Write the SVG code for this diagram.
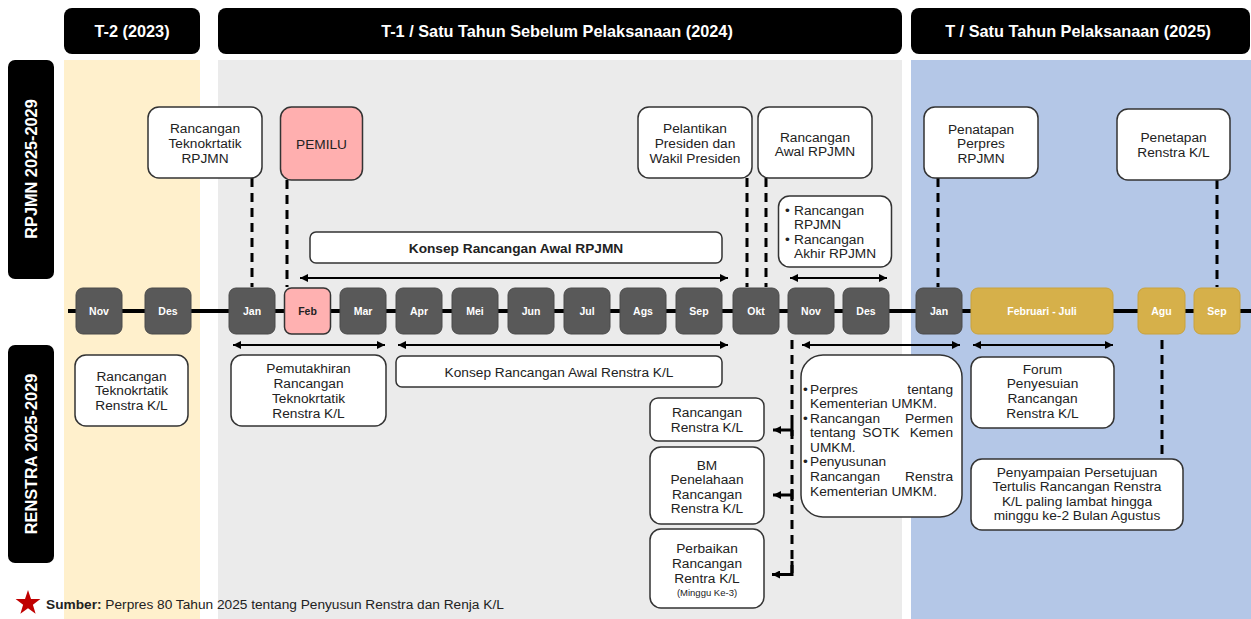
<svg xmlns="http://www.w3.org/2000/svg" width="1251" height="619" viewBox="0 0 1251 619">
<defs>
<marker id="ah" viewBox="0 0 10 10" refX="10" refY="5" markerUnits="userSpaceOnUse" markerWidth="10" markerHeight="8" orient="auto-start-reverse"><path d="M0,0 L10,5 L0,10 z" fill="#000"/></marker>
<style>
text{font-family:"Liberation Sans",Arial,sans-serif;}
.hdr{fill:#000;}
.ht{fill:#fff;font-size:16.3px;font-weight:bold;text-anchor:middle;}
.box{fill:#fff;stroke:#333;stroke-width:1.5;}
.t{font-size:13.7px;fill:#222;text-anchor:middle;}
.tl{font-size:13.7px;fill:#222;}
.mo{fill:#595959;stroke:#4a4a4a;stroke-width:1;}
.gold{fill:#d6b04a;stroke:#c9a23c;stroke-width:1;}
.mt{fill:#fff;font-size:10.5px;font-weight:bold;text-anchor:middle;}
.dash{stroke:#000;stroke-width:3;stroke-dasharray:9 6;fill:none;}
.arr{stroke:#000;stroke-width:2;fill:none;}
</style>
</defs>
<rect width="1251" height="619" fill="#fff"/>
<!-- backgrounds -->
<rect x="64" y="60" width="136" height="559" fill="#fff0cc"/>
<rect x="218" y="60" width="684" height="559" fill="#ebebeb"/>
<rect x="911" y="60" width="340" height="559" fill="#b4c7e7"/>
<!-- headers -->
<g id="hdr-t2"><rect class="hdr" x="64" y="8" width="136" height="46" rx="8"/><text class="ht" x="132" y="37">T-2 (2023)</text></g>
<g id="hdr-t1"><rect class="hdr" x="218" y="8" width="684" height="46" rx="8"/><text class="ht" x="557" y="37">T-1 / Satu Tahun Sebelum Pelaksanaan (2024)</text></g>
<g id="hdr-t"><rect class="hdr" x="911" y="8" width="339" height="46" rx="8"/><text class="ht" x="1078" y="37">T / Satu Tahun Pelaksanaan (2025)</text></g>
<g id="lbl-rpjmn"><rect class="hdr" x="8" y="60" width="46" height="219" rx="7"/><text class="ht" transform="translate(37,169) rotate(-90)" x="0" y="0">RPJMN 2025-2029</text></g>
<g id="lbl-renstra"><rect class="hdr" x="8" y="345" width="46" height="218" rx="7"/><text class="ht" transform="translate(37,454) rotate(-90)" x="0" y="0">RENSTRA 2025-2029</text></g>

<!-- connectors -->
<g id="connectors">
<line x1="68" y1="311" x2="1251" y2="311" stroke="#000" stroke-width="4"/>
<line class="dash" x1="252" y1="178" x2="252" y2="287"/>
<line class="dash" x1="287" y1="180" x2="287" y2="287"/>
<line class="dash" x1="747" y1="178" x2="747" y2="287"/>
<line class="dash" x1="766" y1="178" x2="766" y2="287"/>
<line class="dash" x1="938" y1="178" x2="938" y2="287"/>
<line class="dash" x1="1217" y1="180" x2="1217" y2="287"/>
<line class="arr" x1="300" y1="278" x2="728" y2="278" marker-start="url(#ah)" marker-end="url(#ah)"/>
<line class="arr" x1="790" y1="278" x2="887" y2="278" marker-start="url(#ah)" marker-end="url(#ah)"/>
<line class="arr" x1="233" y1="345" x2="385" y2="345" marker-start="url(#ah)" marker-end="url(#ah)"/>
<line class="arr" x1="398" y1="345" x2="728" y2="345" marker-start="url(#ah)" marker-end="url(#ah)"/>
<line class="arr" x1="802" y1="345" x2="960" y2="345" marker-start="url(#ah)" marker-end="url(#ah)"/>
<line class="arr" x1="973" y1="345" x2="1113" y2="345" marker-start="url(#ah)" marker-end="url(#ah)"/>
<line class="dash" x1="792" y1="340" x2="792" y2="573" stroke-dasharray="2 6 9 6 9 6 9 6 9 6 9 6 9 6 9 6 9 6 9 6 9 6 9 6 9 6 9 6 9 6 9 6"/>
<path d="M792,561 L792,574.5 L772,574.5" stroke="#000" stroke-width="3" fill="none" marker-end="url(#ah)"/>
<line x1="792" y1="430" x2="773" y2="430" stroke="#000" stroke-width="3" marker-end="url(#ah)"/>
<line x1="792" y1="424" x2="792" y2="436" stroke="#000" stroke-width="3"/>
<line x1="792" y1="495" x2="773" y2="495" stroke="#000" stroke-width="3" marker-end="url(#ah)"/>
<line x1="792" y1="489" x2="792" y2="501" stroke="#000" stroke-width="3"/>
<line class="dash" x1="1162" y1="340" x2="1162" y2="459" stroke-dasharray="2 6 9 6 9 6 9 6 9 6 9 6 9 6 9 6 9 6 9 6"/>
</g>

<!-- months -->
<g id="months">
<g id="m-nov23"><rect class="mo" x="76" y="288" width="46" height="46" rx="7"/><text class="mt" x="99" y="314.5">Nov</text></g>
<g id="m-des23"><rect class="mo" x="145" y="288" width="46" height="46" rx="7"/><text class="mt" x="168" y="314.5">Des</text></g>
<g id="m-jan24"><rect class="mo" x="229" y="288" width="46" height="46" rx="7"/><text class="mt" x="252" y="314.5">Jan</text></g>
<g id="m-feb24"><rect x="284.5" y="288" width="46" height="46" rx="7" fill="#ffb1b1" stroke="#333" stroke-width="1.5"/><text class="mt" x="307.5" y="314.5" style="fill:#222">Feb</text></g>
<g id="m-mar24"><rect class="mo" x="340" y="288" width="46" height="46" rx="7"/><text class="mt" x="363" y="314.5">Mar</text></g>
<g id="m-apr24"><rect class="mo" x="396" y="288" width="46" height="46" rx="7"/><text class="mt" x="419" y="314.5">Apr</text></g>
<g id="m-mei24"><rect class="mo" x="452" y="288" width="46" height="46" rx="7"/><text class="mt" x="475" y="314.5">Mei</text></g>
<g id="m-jun24"><rect class="mo" x="508" y="288" width="46" height="46" rx="7"/><text class="mt" x="531" y="314.5">Jun</text></g>
<g id="m-jul24"><rect class="mo" x="564" y="288" width="46" height="46" rx="7"/><text class="mt" x="587" y="314.5">Jul</text></g>
<g id="m-ags24"><rect class="mo" x="620" y="288" width="46" height="46" rx="7"/><text class="mt" x="643" y="314.5">Ags</text></g>
<g id="m-sep24"><rect class="mo" x="676" y="288" width="46" height="46" rx="7"/><text class="mt" x="699" y="314.5">Sep</text></g>
<g id="m-okt24"><rect class="mo" x="733" y="288" width="46" height="46" rx="7"/><text class="mt" x="756" y="314.5">Okt</text></g>
<g id="m-nov24"><rect class="mo" x="788" y="288" width="46" height="46" rx="7"/><text class="mt" x="811" y="314.5">Nov</text></g>
<g id="m-des24"><rect class="mo" x="843" y="288" width="46" height="46" rx="7"/><text class="mt" x="866" y="314.5">Des</text></g>
<g id="m-jan25"><rect class="mo" x="916" y="288" width="46" height="46" rx="7"/><text class="mt" x="939" y="314.5">Jan</text></g>
<g id="m-febjul25"><rect class="gold" x="971" y="288" width="142" height="46" rx="7"/><text class="mt" x="1042" y="314.5">Februari - Juli</text></g>
<g id="m-agu25"><rect class="gold" x="1138" y="288" width="47" height="46" rx="7"/><text class="mt" x="1161.5" y="314.5">Agu</text></g>
<g id="m-sep25"><rect class="gold" x="1194" y="288" width="46" height="46" rx="7"/><text class="mt" x="1217" y="314.5">Sep</text></g>
</g>

<!-- top nodes -->
<g id="n-rtek-rpjmn"><rect class="box" x="148" y="107" width="114" height="71" rx="11"/><text class="t" x="205" y="133">Rancangan</text><text class="t" x="205" y="148">Teknokrtatik</text><text class="t" x="205" y="163">RPJMN</text></g>
<g id="n-pemilu"><rect x="280.5" y="107" width="82" height="73" rx="11" fill="#ffafaf" stroke="#333" stroke-width="1.5"/><text class="t" x="321.5" y="149">PEMILU</text></g>
<g id="n-pelantikan"><rect class="box" x="638" y="107" width="114" height="71" rx="11"/><text class="t" x="695" y="133">Pelantikan</text><text class="t" x="695" y="148">Presiden dan</text><text class="t" x="695" y="163">Wakil Presiden</text></g>
<g id="n-rawal-rpjmn"><rect class="box" x="758" y="107" width="114" height="71" rx="11"/><text class="t" x="815" y="141.5">Rancangan</text><text class="t" x="815" y="156">Awal RPJMN</text></g>
<g id="n-rakhir"><rect class="box" x="778.5" y="196" width="113" height="71" rx="11"/><text class="tl" x="785" y="214.5">•</text><text class="tl" x="794" y="214.5">Rancangan</text><text class="tl" x="794" y="229">RPJMN</text><text class="tl" x="785" y="243.5">•</text><text class="tl" x="794" y="243.5">Rancangan</text><text class="tl" x="794" y="258">Akhir RPJMN</text></g>
<g id="n-penatapan"><rect class="box" x="924" y="107" width="114" height="71" rx="11"/><text class="t" x="981" y="133.5">Penatapan</text><text class="t" x="981" y="148">Perpres</text><text class="t" x="981" y="162.5">RPJMN</text></g>
<g id="n-penetapan"><rect class="box" x="1117" y="109" width="113" height="71" rx="11"/><text class="t" x="1173.5" y="141.5">Penetapan</text><text class="t" x="1173.5" y="156.5">Renstra K/L</text></g>
<g id="n-konsep-rpjmn"><rect class="box" x="310" y="232" width="412" height="31" rx="6"/><text class="t" x="516" y="252.5" style="font-weight:bold">Konsep Rancangan Awal RPJMN</text></g>

<!-- bottom nodes -->
<g id="n-rtek-renstra"><rect class="box" x="75" y="355" width="113" height="71" rx="11"/><text class="t" x="131.5" y="380.5">Rancangan</text><text class="t" x="131.5" y="395">Teknokrtatik</text><text class="t" x="131.5" y="409.5">Renstra K/L</text></g>
<g id="n-pemutakhiran"><rect class="box" x="231" y="355" width="155" height="71" rx="11"/><text class="t" x="308.5" y="372.5">Pemutakhiran</text><text class="t" x="308.5" y="387.5">Rancangan</text><text class="t" x="308.5" y="402.5">Teknokrtatik</text><text class="t" x="308.5" y="417.5">Renstra K/L</text></g>
<g id="n-konsep-renstra"><rect class="box" x="396" y="356" width="326" height="31" rx="6"/><text class="t" x="559" y="377">Konsep Rancangan Awal Renstra K/L</text></g>
<g id="n-rrenstra"><rect class="box" x="650" y="398" width="114" height="43" rx="8"/><text class="t" x="707" y="416.5">Rancangan</text><text class="t" x="707" y="431.5">Renstra K/L</text></g>
<g id="n-bm"><rect class="box" x="650" y="447" width="114" height="77" rx="11"/><text class="t" x="707" y="469.5">BM</text><text class="t" x="707" y="484">Penelahaan</text><text class="t" x="707" y="498.5">Rancangan</text><text class="t" x="707" y="513">Renstra K/L</text></g>
<g id="n-perbaikan"><rect class="box" x="650" y="529" width="114" height="79" rx="11"/><text class="t" x="707" y="552.5">Perbaikan</text><text class="t" x="707" y="567.5">Rancangan</text><text class="t" x="707" y="582.5">Rentra K/L</text><text class="t" x="707" y="596" style="font-size:9.5px">(Minggu Ke-3)</text></g>
<g id="n-perpres"><rect class="box" x="801" y="355" width="161" height="162" rx="22"/>
<text class="tl" x="803" y="393.5">•</text><text class="tl" x="810" y="393.5">Perpres</text><text class="tl" x="953" y="393.5" text-anchor="end">tentang</text>
<text class="tl" x="810" y="408">Kementerian UMKM.</text>
<text class="tl" x="803" y="422.5">•</text><text class="tl" x="810" y="422.5">Rancangan</text><text class="tl" x="953" y="422.5" text-anchor="end">Permen</text>
<text class="tl" x="810" y="437">tentang</text><text class="tl" x="881" y="437" text-anchor="middle">SOTK</text><text class="tl" x="953" y="437" text-anchor="end">Kemen</text>
<text class="tl" x="810" y="451.5">UMKM.</text>
<text class="tl" x="803" y="466">•</text><text class="tl" x="810" y="466">Penyusunan</text>
<text class="tl" x="810" y="481">Rancangan</text><text class="tl" x="953" y="481" text-anchor="end">Renstra</text>
<text class="tl" x="810" y="496">Kementerian UMKM.</text></g>
<g id="n-forum"><rect class="box" x="971" y="357" width="143" height="71" rx="11"/><text class="t" x="1042.5" y="373.5">Forum</text><text class="t" x="1042.5" y="388">Penyesuian</text><text class="t" x="1042.5" y="402.5">Rancangan</text><text class="t" x="1042.5" y="417.5">Renstra K/L</text></g>
<g id="n-penyampaian"><rect class="box" x="971" y="459" width="212" height="71" rx="11"/><text class="t" x="1077" y="476.5">Penyampaian Persetujuan</text><text class="t" x="1077" y="491">Tertulis Rancangan Renstra</text><text class="t" x="1077" y="505.5">K/L paling lambat hingga</text><text class="t" x="1077" y="520">minggu  ke-2 Bulan Agustus</text></g>

<!-- footer -->
<g id="footer">
<polygon points="28,590 31,599 40.4,599.1 32.9,604.7 35.6,613.7 28,608.3 20.4,613.7 23.1,604.7 15.6,599.1 25,599" fill="#c00000"/>
<text x="46" y="609" style="font-size:13.7px;fill:#222"><tspan font-weight="bold">Sumber:</tspan> Perpres 80 Tahun 2025 tentang Penyusun Renstra dan Renja K/L</text>
</g>
</svg>
